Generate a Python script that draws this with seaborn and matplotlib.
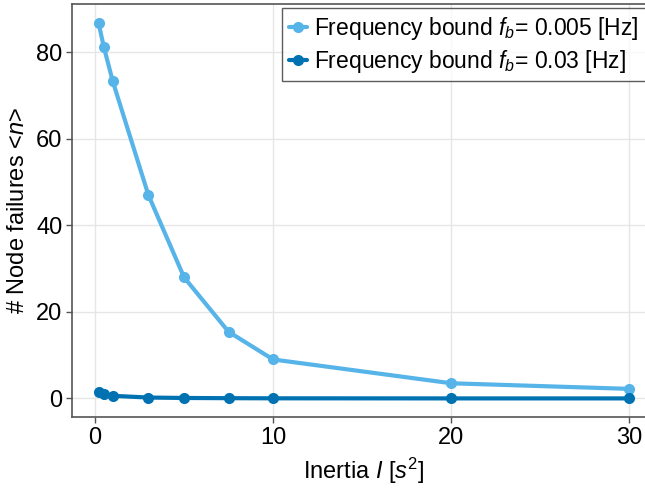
import matplotlib
matplotlib.use("Agg")
import matplotlib.pyplot as plt
import seaborn as sns
import pandas as pd
import numpy as np

inertia = [0.2, 0.5, 1, 3, 5, 7.5, 10, 20, 30]
fail_005 = [86.8, 81.2, 73.3, 47.0, 28.0, 15.4, 9.0, 3.5, 2.2]
fail_003 = [1.4, 1.0, 0.6, 0.2, 0.1, 0.05, 0.02, 0.0, 0.0]
labels = [r"Frequency bound $f_b$= 0.005 [Hz]", r"Frequency bound $f_b$= 0.03 [Hz]"]
colors = ["#56B4E9", "#0072B2"]

df = pd.DataFrame({
    "I": inertia * 2,
    "n": fail_005 + fail_003,
    "series": [labels[0]] * len(inertia) + [labels[1]] * len(inertia),
})

sns.set_theme(style="white")
plt.rcParams["font.family"] = ["Liberation Sans", "DejaVu Sans"]
plt.rcParams["mathtext.fontset"] = "custom"
plt.rcParams["mathtext.it"] = "Liberation Sans:italic"
plt.rcParams["mathtext.rm"] = "Liberation Sans"
plt.rcParams["text.color"] = "black"
plt.rcParams["axes.labelcolor"] = "black"
plt.rcParams["xtick.labelcolor"] = "black"
plt.rcParams["ytick.labelcolor"] = "black"

fig = plt.figure(figsize=(6.45, 4.92), dpi=100)
W, H = 645, 492
ax = fig.add_axes([72 / W, 1 - 417 / H, (656 - 72) / W, (417 - 4) / H])

sns.lineplot(data=df, x="I", y="n", hue="series", palette=colors, ax=ax,
             marker="o", markersize=8, markeredgewidth=0, linewidth=3, legend=True)

ax.set_xlim(-1.29, 31.49)
ax.set_ylim(-4.3, 91.2)
ax.set_xticks([0, 10, 20, 30])
ax.set_yticks([0, 20, 40, 60, 80])
ax.grid(True, color="#e6e6e6", linewidth=1)
ax.set_axisbelow(True)
for s in ["left", "bottom", "top", "right"]:
    ax.spines[s].set_color("#555555")
    ax.spines[s].set_linewidth(1.2)
ax.tick_params(axis="both", labelsize=17, length=4, width=1, color="#555555", direction="out",
               bottom=True, left=True, pad=3)
ax.set_xlabel(r"Inertia $I$ [$s^2$]", fontsize=17, labelpad=5)
ax.set_ylabel(r"# Node failures <$n$>", fontsize=17, labelpad=5)

leg = ax.legend(loc="upper left", bbox_to_anchor=((282 - 72) / (656 - 72), 1 - 4 / 413),
                fontsize=16.5, frameon=True,
                fancybox=False, edgecolor="#333333", handlelength=0.8, handletextpad=0.3,
                borderpad=0.3, labelspacing=0.25, borderaxespad=0.0)
leg.get_frame().set_linewidth(1.0)
leg.set_title(None)

fig.savefig("out.png", dpi=100)
